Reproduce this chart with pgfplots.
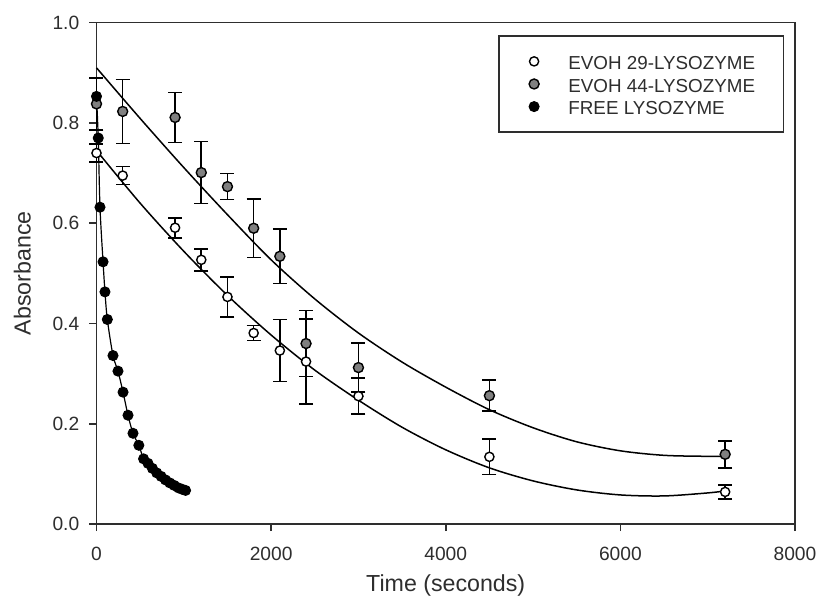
\documentclass[border=0pt]{standalone}
\usepackage{fontspec}
\setmainfont{Liberation Sans}
\usepackage{pgfplots}
\usepackage{pgfplotstable}
\pgfplotsset{compat=1.18}

\pgfplotstableread{
x y e
0 0.740 0.018
300 0.695 0.018
900 0.591 0.020
1200 0.527 0.022
1500 0.453 0.040
1800 0.381 0.015
2100 0.346 0.062
2400 0.324 0.085
3000 0.255 0.036
4500 0.134 0.035
7200 0.064 0.014
}\evohA

\pgfplotstableread{
x y e
0 0.838 0.052
300 0.823 0.064
900 0.811 0.050
1200 0.701 0.062
1500 0.673 0.026
1800 0.590 0.058
2100 0.534 0.054
2400 0.360 0.066
3000 0.312 0.049
4500 0.256 0.031
7200 0.139 0.027
}\evohB

\pgfplotstableread{
x y
0 0.853
20 0.770
40 0.632
75 0.523
97 0.463
124 0.408
189 0.336
246 0.305
304 0.263
361 0.217
418 0.181
485 0.157
539 0.130
590 0.121
640 0.111
690 0.102
740 0.095
790 0.088
840 0.082
890 0.077
940 0.072
985 0.069
1020 0.067
}\free

\pgfplotstableread{
x y
0 0.745
500 0.640
1000 0.544
1500 0.456
2000 0.377
2500 0.307
3000 0.247
3500 0.193
4000 0.148
4500 0.112
5000 0.086
5500 0.068
6000 0.058
6500 0.056
7000 0.062
7200 0.066
}\fitA

\pgfplotstableread{
x y
0 0.910
500 0.809
1000 0.711
1500 0.617
2000 0.527
2500 0.449
3000 0.381
3500 0.323
4000 0.273
4500 0.228
5000 0.192
5500 0.164
6000 0.146
6500 0.137
7000 0.135
7200 0.135
}\fitB

\definecolor{txt}{gray}{0.18}
\definecolor{midgray}{gray}{0.5}
\newcommand{\LE}[1]{\makebox[92.5pt][l]{\rule[-3.1pt]{0pt}{12.9pt}\smash{#1}}}

\begin{document}
\begin{tikzpicture}
\begin{axis}[
  scale only axis, width=349.25pt, height=250.65pt,
  xmin=0, xmax=8000, ymin=0, ymax=1,
  clip=false,
  xtick={0,2000,4000,6000,8000},
  ytick={0,0.2,0.4,0.6,0.8,1.0},
  xtick pos=bottom, ytick pos=left,
  tick align=outside, major tick length=3.5pt,
  scaled x ticks=false,
  /pgf/number format/assume math mode=true,
  tick label style={font=\fontsize{9.6}{11}\selectfont, text=txt},
  xticklabel style={yshift=-4.5pt, /pgf/number format/.cd, fixed, 1000 sep={}},
  yticklabel style={xshift=-1.6pt, /pgf/number format/.cd, fixed, fixed zerofill, precision=1},
  axis line style={line width=0.8pt, draw=txt},
  every tick/.style={line width=0.8pt, draw=txt},
  xlabel={Time (seconds)}, ylabel={Absorbance},
  label style={font=\fontsize{11.6}{13}\selectfont, text=txt},
  xlabel style={at={(axis description cs:0.5,-0.122)}, anchor=center},
  ylabel style={at={(axis description cs:-0.106,0.5)}, anchor=center},
  legend style={at={(0.9847,0.9755)}, anchor=north east, draw=txt, line width=0.9pt,
    inner xsep=15pt, inner ysep=7.1pt, row sep=0pt, column sep=14.65pt,
    font=\fontsize{9.4}{11}\selectfont, text=txt,
    nodes={inner sep=0pt}},
  legend cell align=left,
  legend image code/.code={\draw[#1] plot coordinates {(0pt,0pt)};},
]
\coordinate (BL) at (rel axis cs:0,0);
\coordinate (TR) at (rel axis cs:1,1);

\addplot[black, line width=0.75pt, smooth, forget plot] table[x=x,y=y]{\fitA};
\addplot[black, line width=0.75pt, smooth, forget plot] table[x=x,y=y]{\fitB};
\addplot[black, line width=0.6pt, smooth, forget plot] table[x=x,y=y]{\free};

\addplot[black, only marks, mark=*, mark size=2.3pt, mark options={fill=white, draw=black, line width=0.7pt},
  error bars/.cd, y dir=both, y explicit,
  error bar style={line width=0.8pt, black},
  error mark options={rotate=90, mark size=3.5pt, line width=0.8pt, black}]
  table[x=x, y=y, y error=e]{\evohA};
\addlegendentry{\LE{EVOH 29-LYSOZYME}}

\addplot[black, only marks, mark=*, mark size=2.5pt, mark options={fill=midgray, draw=black, line width=0.7pt},
  error bars/.cd, y dir=both, y explicit,
  error bar style={line width=0.8pt, black},
  error mark options={rotate=90, mark size=3.5pt, line width=0.8pt, black}]
  table[x=x, y=y, y error=e]{\evohB};
\addlegendentry{\LE{EVOH 44-LYSOZYME}}

\addplot[black, only marks, mark=*, mark size=2.5pt, mark options={fill=black, draw=black, line width=0.5pt}]
  table[x=x, y=y]{\free};
\addlegendentry{\LE{FREE LYSOZYME}}
\end{axis}
\pgfresetboundingbox
\path ([shift={(-48.25pt,-41pt)}]BL) rectangle ([shift={(11pt,11.35pt)}]TR);
\end{tikzpicture}
\end{document}
